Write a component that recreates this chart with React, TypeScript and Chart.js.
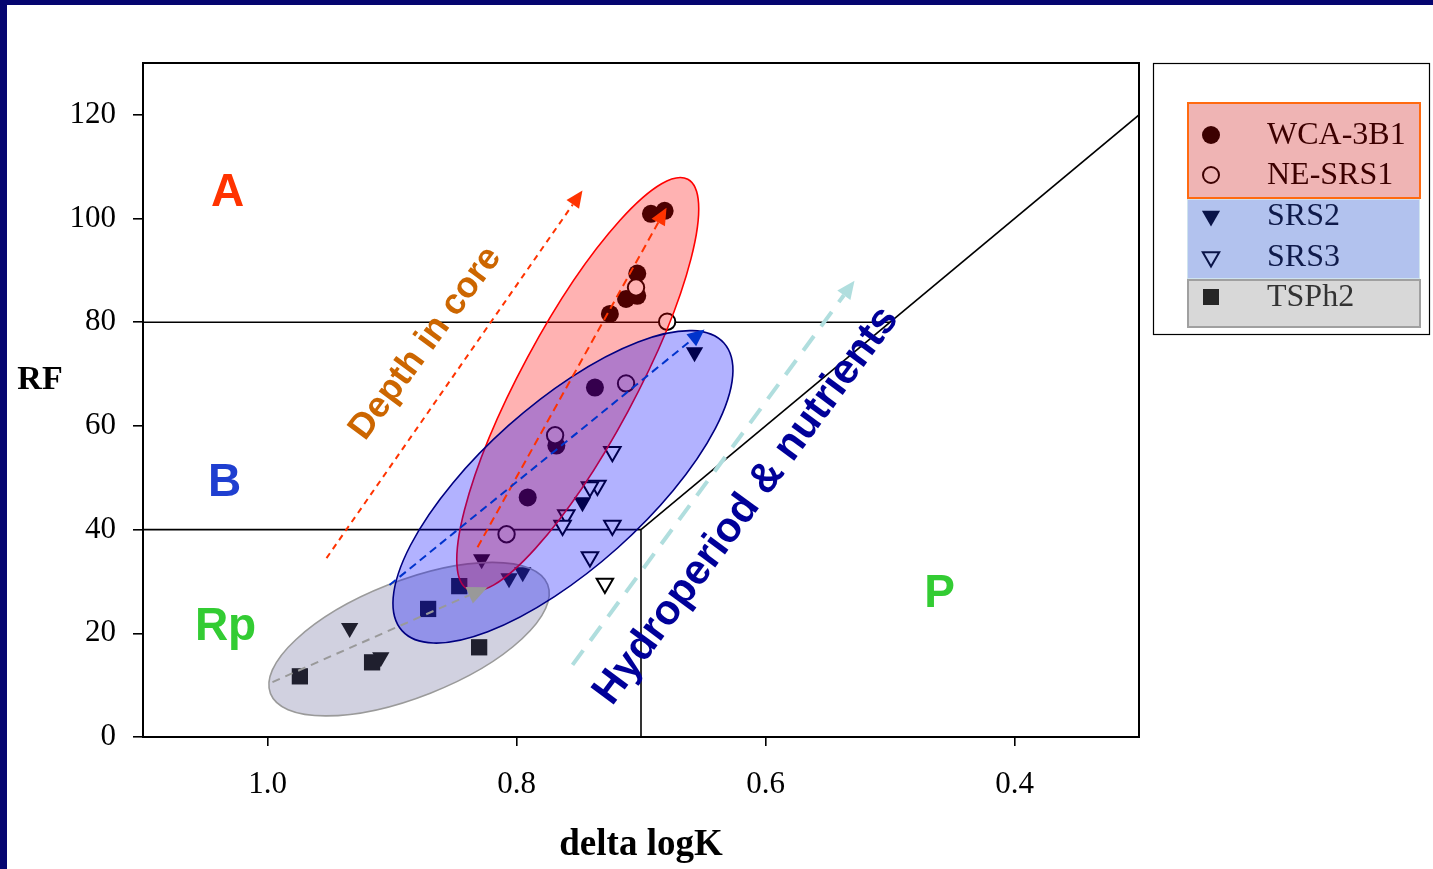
import React, { useEffect, useRef } from 'react';
import { Chart, registerables } from 'chart.js';
Chart.register(...registerables);

// ---- tick labels ----
const xTicks = [1.0, 0.8, 0.6, 0.4];
const yTicks = [0, 20, 40, 60, 80, 100, 120];

// ---- series (delta logK, RF) ----
const wcaX = [0.692, 0.681, 0.703, 0.703, 0.712, 0.725, 0.737, 0.768, 0.791];
const wcaY = [100.9, 101.5, 89.4, 85.1, 84.5, 81.6, 67.4, 56.2, 46.2];
const neX = [0.704, 0.679, 0.712, 0.769, 0.808];
const neY = [86.7, 80.1, 68.2, 58.2, 39.1];
const srs2X = [0.657, 0.747, 0.828, 0.806, 0.795, 0.934, 0.909];
const srs2Y = [74.2, 45.3, 34.3, 30.6, 31.8, 21.0, 15.4];
const srs3X = [0.723, 0.735, 0.741, 0.760, 0.763, 0.723, 0.741, 0.729];
const srs3Y = [55.0, 48.5, 48.2, 42.8, 40.8, 40.8, 34.7, 29.6];
const tspX = [0.846, 0.871, 0.830, 0.916, 0.974];
const tspY = [29.1, 24.7, 17.3, 14.4, 11.7];

// ---- region boundaries ----
const bound80X = [1.1, 0.5];
const bound80Y = [80, 80];
const bound40X = [1.1, 0.7];
const bound40Y = [40, 40];
const boundVX = [0.7, 0.7];
const boundVY = [0, 40];
const boundDX = [0.7, 0.3];
const boundDY = [40, 120];

const legendNames = ['WCA-3B1', 'NE-SRS1', 'SRS2', 'SRS3', 'TSPh2'];

const pts = (xs: number[], ys: number[]) => xs.map((x, i) => ({ x, y: ys[i] }));

// ---- annotations (data units) ----
const ellipses = [
  { cx: 0.8863, cy: 18.88, dx: -0.1113, dy: 10.52, ratio: 0.39, fill: 'rgba(102,102,153,0.3)', stroke: '#9a9a9a' },
  { cx: 0.7508, cy: 68.03, dx: -0.0884, dy: 39.55, ratio: 0.245, fill: 'rgba(255,0,0,0.3)', stroke: '#ff0000' },
  { cx: 0.7627, cy: 48.25, dx: -0.1293, dy: 27.73, ratio: 0.38, fill: 'rgba(0,0,255,0.3)', stroke: '#000080' },
];

const trendArrows = [
  { x1: 0.9526, y1: 34.5, x2: 0.747, y2: 105.4, color: '#ff3300', width: 2, dash: [6, 5], head: 17 },
  { x1: 0.8313, y1: 36.6, x2: 0.6795, y2: 102.1, color: '#ff3300', width: 2, dash: [8, 5], head: 17 },
  { x1: 0.902, y1: 29.3, x2: 0.649, y2: 78.6, color: '#0033cc', width: 2, dash: [8, 5], head: 17 },
  { x1: 0.996, y1: 10.6, x2: 0.8233, y2: 28.9, color: '#999999', width: 2, dash: [8, 6], head: 20 },
  { x1: 0.755, y1: 13.9, x2: 0.5285, y2: 88.0, color: '#b0dede', width: 4, dash: [18, 12], head: 18 },
];

const regionLabels = [
  { text: 'A', x: 1.0321, y: 104.8, color: '#ff3300' },
  { text: 'B', x: 1.0345, y: 48.9, color: '#1f3fd0' },
  { text: 'Rp', x: 1.0337, y: 21.2, color: '#33cc33' },
  { text: 'P', x: 0.4602, y: 27.5, color: '#33cc33' },
];

const rotatedLabels = [
  { text: 'Depth in core', x: 0.8731, y: 75.9, color: '#cc6600', size: 36, angle: 53.5 },
  { text: 'Hydroperiod & nutrients', x: 0.6153, y: 44.6, color: '#000099', size: 42, angle: 53.5 },
];

function drawArrow(ctx: CanvasRenderingContext2D, p1: any, p2: any, color: string, width: number, dash: number[], head: number) {
  const ang = Math.atan2(p2.y - p1.y, p2.x - p1.x);
  const bx = p2.x - Math.cos(ang) * head;
  const by = p2.y - Math.sin(ang) * head;
  ctx.save();
  ctx.strokeStyle = color;
  ctx.lineWidth = width;
  ctx.setLineDash(dash);
  ctx.beginPath();
  ctx.moveTo(p1.x, p1.y);
  ctx.lineTo(bx, by);
  ctx.stroke();
  ctx.setLineDash([]);
  ctx.fillStyle = color;
  const hw = head * 0.45;
  ctx.beginPath();
  ctx.moveTo(p2.x, p2.y);
  ctx.lineTo(bx + Math.sin(ang) * hw, by - Math.cos(ang) * hw);
  ctx.lineTo(bx - Math.sin(ang) * hw, by + Math.cos(ang) * hw);
  ctx.closePath();
  ctx.fill();
  ctx.restore();
}

function drawMarker(ctx: CanvasRenderingContext2D, kind: string, x: number, y: number, color: string) {
  ctx.save();
  ctx.lineWidth = 2;
  ctx.strokeStyle = color;
  ctx.fillStyle = color;
  ctx.beginPath();
  if (kind === 'circle' || kind === 'ocircle') {
    ctx.arc(x, y, kind === 'circle' ? 9 : 8, 0, Math.PI * 2);
    if (kind === 'circle') ctx.fill(); else ctx.stroke();
  } else if (kind === 'tri' || kind === 'otri') {
    const r = kind === 'tri' ? 10.5 : 9.5;
    ctx.moveTo(x - r * 0.866, y - r * 0.5);
    ctx.lineTo(x + r * 0.866, y - r * 0.5);
    ctx.lineTo(x, y + r);
    ctx.closePath();
    if (kind === 'tri') ctx.fill(); else ctx.stroke();
  } else {
    ctx.rect(x - 8, y - 8, 16, 16);
    ctx.fill();
  }
  ctx.restore();
}

const overlayPlugin = {
  id: 'overlay',
  beforeDraw(chart: any) {
    const ctx = chart.ctx as CanvasRenderingContext2D;
    ctx.save();
    ctx.fillStyle = '#ffffff';
    ctx.fillRect(0, 0, chart.width, chart.height);
    ctx.fillStyle = '#050570';
    ctx.fillRect(0, 0, chart.width, 5);
    ctx.fillRect(0, 0, 7, chart.height);
    ctx.restore();
  },
  afterDatasetsDraw(chart: any) {
    const ctx = chart.ctx as CanvasRenderingContext2D;
    const xs = chart.scales.x;
    const ys = chart.scales.y;
    const P = (x: number, y: number) => ({ x: xs.getPixelForValue(x), y: ys.getPixelForValue(y) });
    const area = chart.chartArea;
    ctx.save();
    ctx.beginPath();
    ctx.rect(area.left, area.top, area.right - area.left, area.bottom - area.top);
    ctx.clip();
    for (const e of ellipses) {
      const c = P(e.cx, e.cy);
      const t = P(e.cx + e.dx, e.cy + e.dy);
      const a = Math.hypot(t.x - c.x, t.y - c.y);
      const rot = Math.atan2(t.y - c.y, t.x - c.x);
      ctx.beginPath();
      ctx.ellipse(c.x, c.y, a, a * e.ratio, rot, 0, Math.PI * 2);
      ctx.fillStyle = e.fill;
      ctx.fill();
      ctx.lineWidth = 1.6;
      ctx.strokeStyle = e.stroke;
      ctx.stroke();
    }
    for (const ar of trendArrows) {
      drawArrow(ctx, P(ar.x1, ar.y1), P(ar.x2, ar.y2), ar.color, ar.width, ar.dash, ar.head);
    }
    ctx.textAlign = 'center';
    ctx.textBaseline = 'middle';
    for (const l of regionLabels) {
      const p = P(l.x, l.y);
      ctx.font = 'bold 46px "Liberation Sans"';
      ctx.fillStyle = l.color;
      ctx.fillText(l.text, p.x, p.y);
    }
    for (const l of rotatedLabels) {
      const p = P(l.x, l.y);
      ctx.save();
      ctx.translate(p.x, p.y);
      ctx.rotate((-l.angle * Math.PI) / 180);
      ctx.font = `bold ${l.size}px "Liberation Sans"`;
      ctx.fillStyle = l.color;
      ctx.fillText(l.text, 0, 0);
      ctx.restore();
    }
    ctx.restore();
  },
  afterDraw(chart: any) {
    const ctx = chart.ctx as CanvasRenderingContext2D;
    const area = chart.chartArea;
    ctx.save();
    ctx.strokeStyle = '#000';
    ctx.lineWidth = 2;
    ctx.strokeRect(area.left, area.top, area.right - area.left, area.bottom - area.top);
    ctx.fillStyle = '#000';
    ctx.textAlign = 'center';
    ctx.textBaseline = 'middle';
    ctx.font = 'bold 34px "Liberation Serif"';
    ctx.fillText('RF', 40, 380);
    ctx.font = 'bold 37px "Liberation Serif"';
    ctx.fillText('delta logK', (area.left + area.right) / 2, 845);

    // legend
    ctx.lineWidth = 1.2;
    ctx.strokeStyle = '#000';
    ctx.strokeRect(1153.5, 63.5, 276, 271);
    ctx.fillStyle = '#efb4b4';
    ctx.fillRect(1187, 103, 233, 95);
    ctx.fillStyle = '#b2c2ee';
    ctx.fillRect(1187, 199, 233, 80);
    ctx.strokeStyle = '#cfe3ee';
    ctx.lineWidth = 1;
    ctx.strokeRect(1187.5, 199.5, 232, 79);
    ctx.fillStyle = '#d8d8d8';
    ctx.fillRect(1187, 280, 233, 47);
    ctx.strokeStyle = '#a0a0a0';
    ctx.lineWidth = 2;
    ctx.strokeRect(1188, 280, 232, 47);
    ctx.strokeStyle = '#ff6a10';
    ctx.strokeRect(1188, 103, 232, 95);
    const rows = [
      { kind: 'circle', y: 135, color: '#3c0000', tc: '#3c0000' },
      { kind: 'ocircle', y: 175, color: '#3c0000', tc: '#3c0000' },
      { kind: 'tri', y: 216, color: '#0a1448', tc: '#0f1a4a' },
      { kind: 'otri', y: 257, color: '#0a1448', tc: '#0f1a4a' },
      { kind: 'rect', y: 297, color: '#262626', tc: '#333333' },
    ];
    ctx.textAlign = 'left';
    ctx.textBaseline = 'middle';
    ctx.font = '32px "Liberation Serif"';
    rows.forEach((r, i) => {
      drawMarker(ctx, r.kind, 1211, r.y, r.color);
      ctx.fillStyle = r.tc;
      ctx.fillText(legendNames[i], 1267, r.y + 1);
    });
    ctx.restore();
  },
};

export default function App() {
  const ref = useRef<HTMLCanvasElement>(null);
  useEffect(() => {
    document.body.style.margin = '0';
    const lineDs = (xs: number[], ys: number[]) => ({
      data: pts(xs, ys),
      showLine: true,
      pointRadius: 0,
      borderColor: '#000',
      borderWidth: 1.6,
      fill: false,
      order: 10,
    });
    const chart = new Chart(ref.current as HTMLCanvasElement, {
      type: 'scatter',
      data: {
        datasets: [
          lineDs(bound80X, bound80Y),
          lineDs(bound40X, bound40Y),
          lineDs(boundVX, boundVY),
          lineDs(boundDX, boundDY),
          { label: legendNames[0], data: pts(wcaX, wcaY), pointStyle: 'circle', pointRadius: 9, backgroundColor: '#000', borderColor: '#000', borderWidth: 0, order: 5 },
          { label: legendNames[1], data: pts(neX, neY), pointStyle: 'circle', pointRadius: 8.2, backgroundColor: '#fff', borderColor: '#000', borderWidth: 2, order: 4 },
          { label: legendNames[2], data: pts(srs2X, srs2Y), pointStyle: 'triangle', rotation: 180, pointRadius: 10, backgroundColor: '#000', borderColor: '#000', borderWidth: 0, order: 3 },
          { label: legendNames[3], data: pts(srs3X, srs3Y), pointStyle: 'triangle', rotation: 180, pointRadius: 9.5, backgroundColor: '#fff', borderColor: '#000', borderWidth: 2, order: 2 },
          { label: legendNames[4], data: pts(tspX, tspY), pointStyle: 'rect', pointRadius: 11.5, backgroundColor: '#000', borderColor: '#000', borderWidth: 0, order: 1 },
        ] as any,
      },
      options: {
        animation: false,
        responsive: false,
        devicePixelRatio: 1,
        events: [],
        layout: { padding: { top: 63, right: 294, left: 0, bottom: 0 } },
        plugins: { legend: { display: false }, tooltip: { enabled: false } },
        scales: {
          x: {
            type: 'linear',
            reverse: true,
            min: 0.3,
            max: 1.1,
            afterBuildTicks: (s: any) => { s.ticks = xTicks.map((v) => ({ value: v })); },
            afterFit: (s: any) => { s.height = 132; },
            ticks: {
              autoSkip: false,
              maxRotation: 0,
              padding: 20,
              color: '#000',
              font: { family: 'Liberation Serif', size: 31 },
              callback: (v: any) => Number(v).toFixed(1),
            },
            grid: { drawOnChartArea: false, drawTicks: true, tickLength: 9, color: '#000', lineWidth: 1.6 },
            border: { display: true, color: '#000', width: 2 },
          },
          y: {
            type: 'linear',
            min: 0,
            max: 130,
            afterBuildTicks: (s: any) => { s.ticks = yTicks.map((v) => ({ value: v })); },
            afterFit: (s: any) => { s.width = 143; },
            ticks: {
              autoSkip: false,
              padding: 17,
              color: '#000',
              font: { family: 'Liberation Serif', size: 31 },
              callback: (v: any) => String(v),
            },
            grid: { drawOnChartArea: false, drawTicks: true, tickLength: 10, color: '#000', lineWidth: 1.6 },
            border: { display: true, color: '#000', width: 2 },
          },
        },
      },
      plugins: [overlayPlugin],
    } as any);
    return () => chart.destroy();
  }, []);
  return (
    <div style={{ position: 'absolute', left: 0, top: 0, width: 1433, height: 869 }}>
      <canvas ref={ref} width={1433} height={869} style={{ display: 'block', width: 1433, height: 869 }} />
    </div>
  );
}
